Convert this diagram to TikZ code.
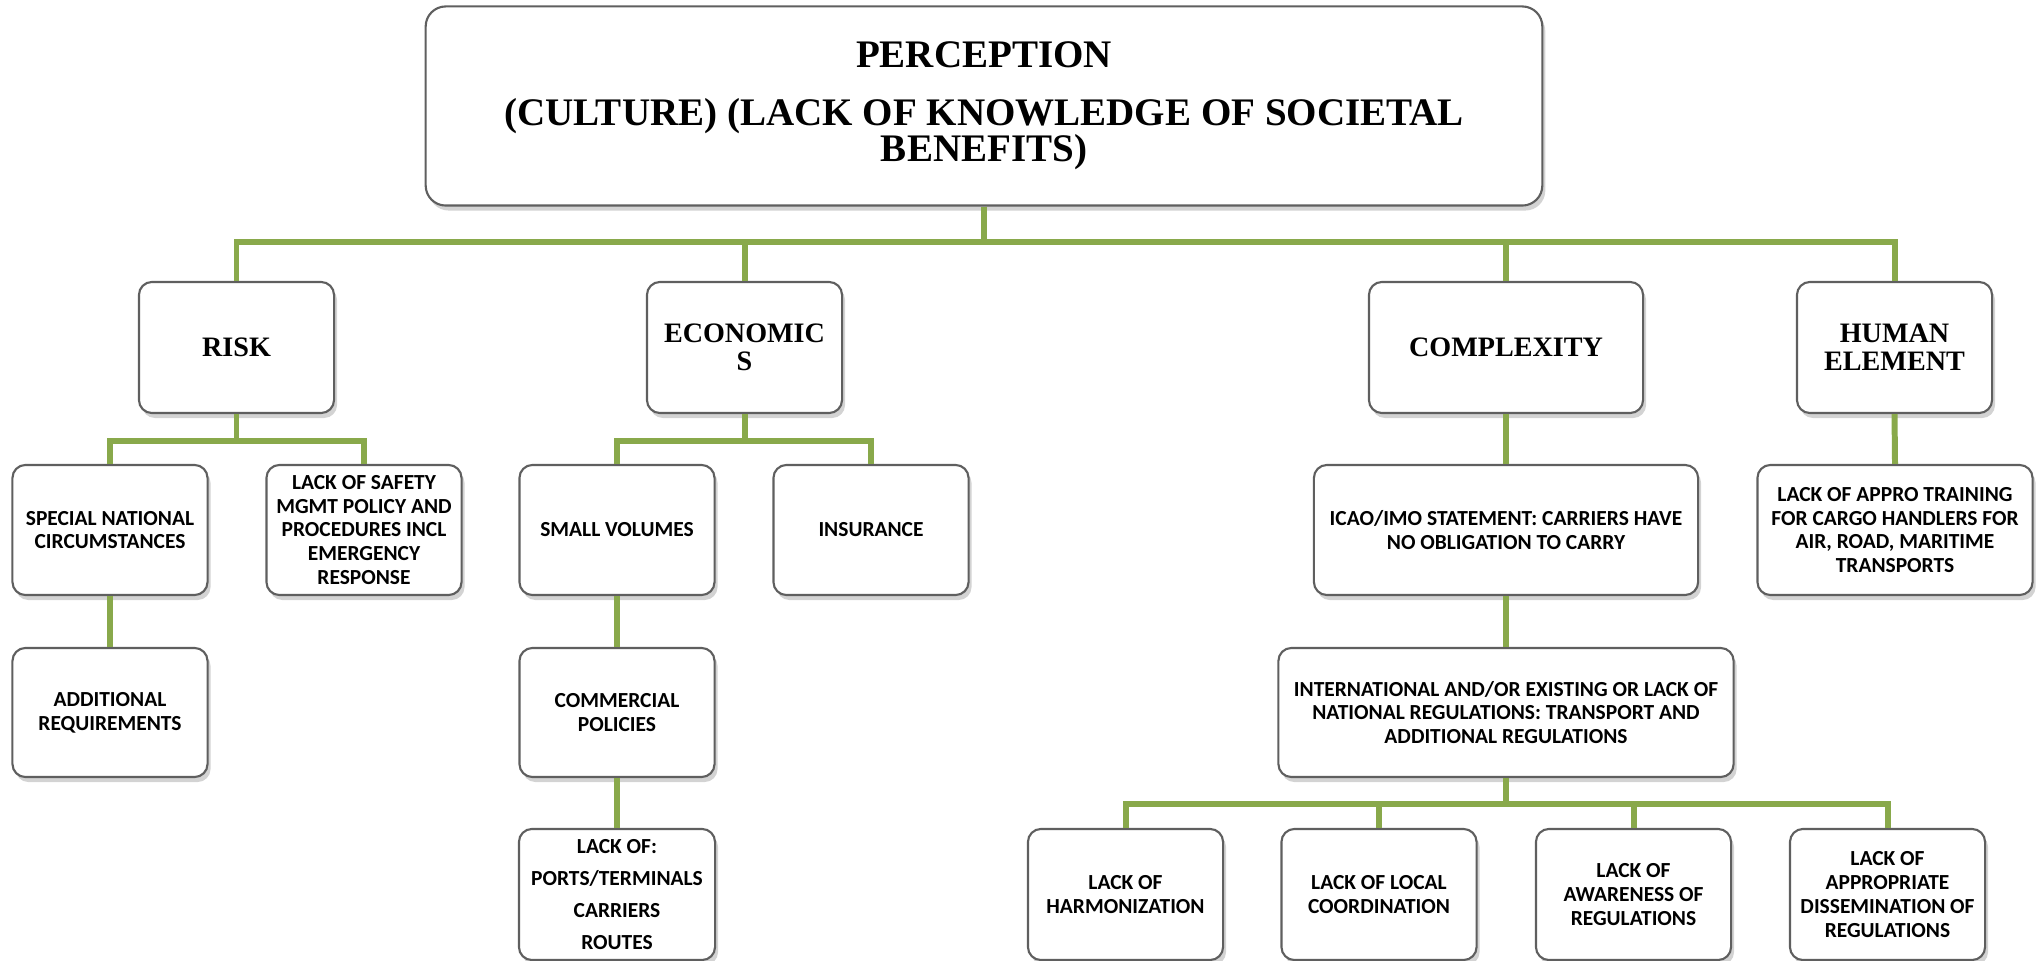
\documentclass[tikz,border=0pt]{standalone}
\usepackage{fontspec}
\setmainfont{Liberation Serif}
\newfontfamily\calibri{Carlito}
\usetikzlibrary{shadows}

\definecolor{branchgreen}{RGB}{137,169,75}
\definecolor{boxline}{RGB}{95,95,95}

\begin{document}
\begin{tikzpicture}[
  x=0.01cm, y=-0.01cm,
  box/.style={
    draw=boxline,
    line width=0.6pt,
    fill=white,
    rounded corners=1.3mm,
    align=center,
    inner sep=1pt,
    minimum width=19.5mm,
    minimum height=13.1mm,
    drop shadow={shadow xshift=0.3mm, shadow yshift=-0.5mm, opacity=0.35, fill=gray}
  },
  headbox/.style={box, font=\bfseries\fontsize{8}{8}\selectfont},
  itembox/.style={box, font=\calibri\bfseries\fontsize{6.1}{6.8}\selectfont},
  link/.style={draw=branchgreen, line width=1.7pt}
]
  \useasboundingbox (0,0) rectangle (2037,961);

  \node[box, minimum width=111.6mm, minimum height=19.9mm, rounded corners=2mm,
        font=\bfseries\fontsize{11.1}{10.3}\selectfont] (perception) at (984,106)
    {PERCEPTION\\[6pt](CULTURE) (LACK OF KNOWLEDGE OF SOCIETAL\\BENEFITS)};

  % main factors
  \node[headbox] (risk) at (236.5,347.5) {RISK};
  \node[headbox] (economics) at (744.5,347.5) {ECONOMIC\\S};
  \node[headbox, minimum width=27.4mm] (complexity) at (1506,347.5) {COMPLEXITY};
  \node[headbox] (human) at (1894.5,347.5) {HUMAN\\ELEMENT};

  % second level
  \node[itembox, minimum height=13mm] (special) at (110,530) {SPECIAL NATIONAL\\CIRCUMSTANCES};
  \node[itembox, minimum height=13mm] (safety) at (364,530)
    {LACK OF SAFETY\\MGMT POLICY AND\\PROCEDURES INCL\\EMERGENCY\\RESPONSE};
  \node[itembox, minimum height=13mm] (smallvol) at (617,530) {SMALL VOLUMES};
  \node[itembox, minimum height=13mm] (insurance) at (871,530) {INSURANCE};
  \node[itembox, minimum height=13mm, minimum width=38.4mm] (icao) at (1506,530)
    {ICAO/IMO STATEMENT: CARRIERS HAVE\\NO OBLIGATION TO CARRY};
  \node[itembox, minimum height=13mm, minimum width=27.5mm] (training) at (1895,530)
    {LACK OF APPRO TRAINING\\FOR CARGO HANDLERS FOR\\AIR, ROAD, MARITIME\\TRANSPORTS};

  % third level
  \node[itembox, minimum height=12.9mm] (additional) at (110,712.5) {ADDITIONAL\\REQUIREMENTS};
  \node[itembox, minimum height=12.9mm] (commercial) at (617,712.5) {COMMERCIAL\\POLICIES};
  \node[itembox, minimum height=12.9mm, minimum width=45.5mm] (regulations) at (1506,712.5)
    {INTERNATIONAL AND/OR EXISTING OR LACK OF\\NATIONAL REGULATIONS: TRANSPORT AND\\ADDITIONAL REGULATIONS};

  % fourth level
  \node[itembox, minimum width=19.6mm] (lackof) at (617,894.5)
    {LACK OF:\\[2.3pt]PORTS/TERMINALS\\[2.3pt]CARRIERS\\[2.3pt]ROUTES};
  \node[itembox] (harmonization) at (1125.5,894.5) {LACK OF\\HARMONIZATION};
  \node[itembox] (coordination) at (1379,894.5) {LACK OF LOCAL\\COORDINATION};
  \node[itembox] (awareness) at (1633.5,894.5) {LACK OF\\AWARENESS OF\\REGULATIONS};
  \node[itembox] (dissemination) at (1887.5,894.5) {LACK OF\\APPROPRIATE\\DISSEMINATION OF\\REGULATIONS};

  % connectors
  \foreach \child in {risk,economics,complexity,human}
    \draw[link] (perception.south) -- ++(0,35) -| (\child.north);
  \foreach \child in {special,safety}
    \draw[link] (risk.south) -- ++(0,27) -| (\child.north);
  \foreach \child in {smallvol,insurance}
    \draw[link] (economics.south) -- ++(0,27) -| (\child.north);
  \foreach \child in {harmonization,coordination,awareness,dissemination}
    \draw[link] (regulations.south) -- ++(0,26) -| (\child.north);
  \draw[link] (complexity.south) -- (icao.north);
  \draw[link] (human.south) -- (training.north);
  \draw[link] (special.south) -- (additional.north);
  \draw[link] (smallvol.south) -- (commercial.north);
  \draw[link] (commercial.south) -- (lackof.north);
  \draw[link] (icao.south) -- (regulations.north);
\end{tikzpicture}
\end{document}
